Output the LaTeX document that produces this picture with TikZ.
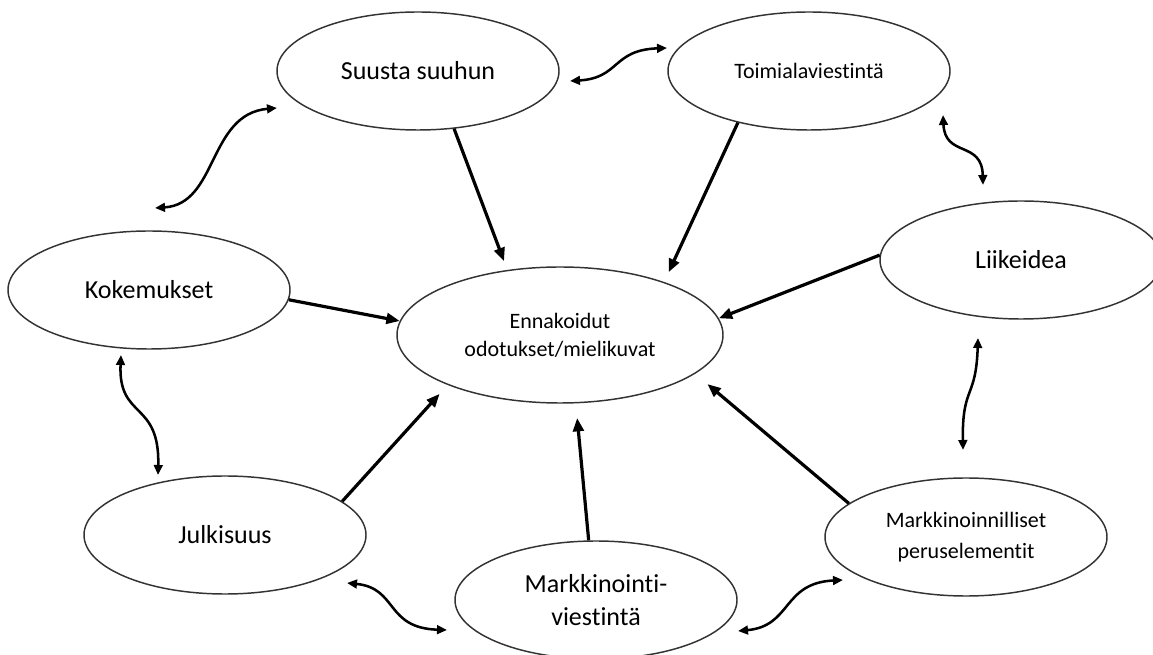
\documentclass[tikz,border=0pt]{standalone}
\usepackage{fontspec}
\setmainfont{Carlito}[Ligatures={NoCommon}]
\usetikzlibrary{shapes.geometric,arrows.meta}

\begin{document}
\begin{tikzpicture}[x=0.75pt,y=-0.75pt,
  bubble/.style={ellipse, draw=black!80, line width=1.1pt, fill=white,
    minimum width=211.5pt, minimum height=88.5pt, inner sep=0pt,
    align=center, font=\fontsize{19.5}{25}\selectfont},
  smalltext/.style={font=\fontsize{16.5}{23}\selectfont},
  feed/.style={line width=2.4pt, -{Triangle[length=10pt,width=8pt]}},
  link/.style={line width=1.9pt,
    {Triangle[length=7.5pt,width=6.5pt]}-{Triangle[length=7.5pt,width=6.5pt]}},
]
\useasboundingbox (0,0) rectangle (1153,655);

% the eight bubbles
\node[bubble] (S) at (418,71) {Suusta suuhun};
\node[bubble, smalltext] (T) at (809,71) {Toimialaviestintä};
\node[bubble] (L) at (1021,260) {Liikeidea};
\node[bubble] (K) at (149,290) {Kokemukset};
\node[bubble, smalltext, minimum width=244.5pt, minimum height=102pt,
      font=\fontsize{16.5}{21}\selectfont] (E) at (560,335)
  {Ennakoidut\\odotukset/mielikuvat};
\node[bubble] (J) at (225,535) {Julkisuus};
\node[bubble] (M) at (596,600) {Markkinointi-\\viestintä};
\node[bubble, smalltext] (P) at (966,537) {Markkinoinnilliset\\peruselementit};

% influences on the central bubble
\draw[feed, shorten >=7pt]  (S.-58) -- (E.129);
\draw[feed, shorten >=8pt]  (T.216) -- (E.27);
\draw[feed]                 (L.178) -- (E.6);
\draw[feed]                 (K.-4)  -- (E.175);
\draw[feed, shorten >=9pt]  (J.16)  -- (E.204);
\draw[feed, shorten >=11pt] (M.97)  -- (E.-77);
\draw[feed, shorten >=12pt] (P.164) -- (E.-16);

% ends of the wavy two-way links
\coordinate (ks1) at (155,208);  \coordinate (ks2) at (277,108);
\coordinate (st1) at (570,81);   \coordinate (st2) at (667,48);
\coordinate (tl1) at (943,115);  \coordinate (tl2) at (983,185);
\coordinate (lp1) at (978,338);  \coordinate (lp2) at (963,450);
\coordinate (kj1) at (121,355);  \coordinate (kj2) at (158,475);
\coordinate (jm1) at (347,583);  \coordinate (jm2) at (447,630);
\coordinate (mp1) at (738,631);  \coordinate (mp2) at (843,580);

\draw[link] (ks1) .. controls (218,204) and (208,114) .. (ks2);
\draw[link] (st1) .. controls (620,78) and (612,50) .. (st2);
\draw[link] (tl1) .. controls (945,158) and (982,140) .. (tl2);
\draw[link] (lp1) .. controls (976,400) and (962,385) .. (lp2);
\draw[link] (kj1) .. controls (118,420) and (160,400) .. (kj2);
\draw[link] (jm1) .. controls (398,588) and (385,628) .. (jm2);
\draw[link] (mp1) .. controls (792,626) and (782,583) .. (mp2);
\end{tikzpicture}
\end{document}
